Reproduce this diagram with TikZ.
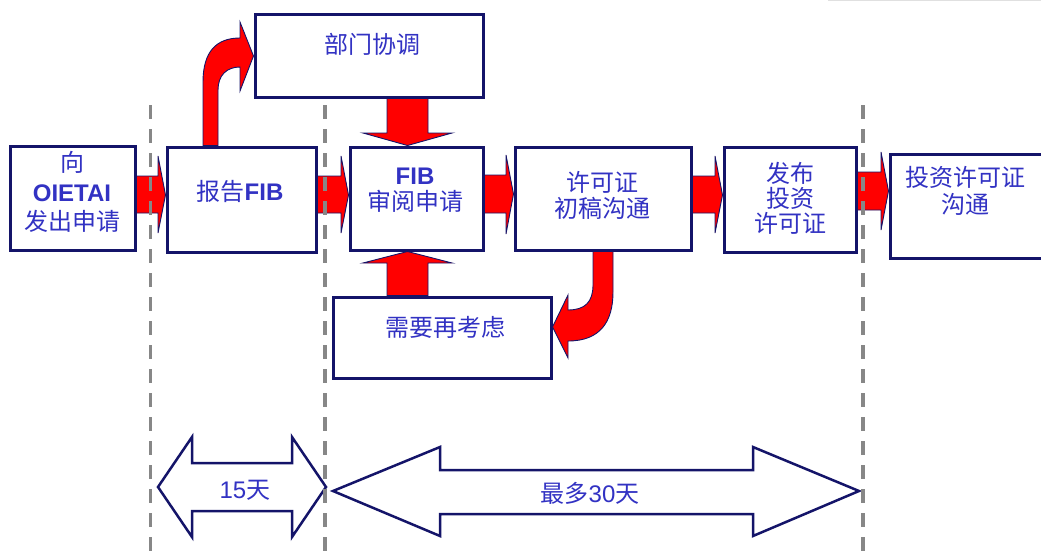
\documentclass[tikz,border=0pt]{standalone}
\usepackage{fontspec}
\setmainfont{Liberation Sans}
\newfontfamily\cjk{Noto Sans CJK SC}
\definecolor{navy}{RGB}{20,20,105}
\definecolor{txtblue}{RGB}{50,50,195}
\definecolor{dashgray}{RGB}{135,135,135}
\begin{document}
\begin{tikzpicture}[x=1pt,y=-1pt,
  box/.style={draw=navy,line width=3pt,fill=white,inner sep=0pt},
  lbl/.style={text=txtblue,font=\cjk\fontsize{24}{26}\selectfont,align=center,inner sep=0pt},
  redarr/.style={fill=red,draw=navy,line width=0.9pt,line join=miter},
  spanarr/.style={fill=white,draw=navy,line width=2.5pt,line join=miter},
  sep/.style={draw=dashgray,line width=3.5pt,dash pattern=on 14pt off 10pt}]
\useasboundingbox (0,0) rectangle (1041,551);
% faint top line
\draw[draw=black!12,line width=1.5pt] (828,0.5) -- (1041,0.5);
% boxes
\node[box,minimum width=125pt,minimum height=104pt] (A) at (72.5,198) {};
\node[box,minimum width=149pt,minimum height=105pt] (B) at (241.5,199.5) {};
\node[box,minimum width=228pt,minimum height=82pt] (C) at (369,56) {};
\node[box,minimum width=133pt,minimum height=103pt] (D) at (416.5,198.5) {};
\node[box,minimum width=176pt,minimum height=103pt] (E) at (603,198.5) {};
\node[box,minimum width=132pt,minimum height=105pt] (F) at (790,199.5) {};
\node[box,minimum width=170pt,minimum height=104pt] (G) at (975,206) {};
\node[box,minimum width=218pt,minimum height=81pt] (H) at (442,337.5) {};
% texts
\node[lbl,font=\cjk\fontsize{24}{29.5}\selectfont] (At) at (72,192) {向\\{\fontspec{Liberation Sans}\bfseries OIETAI}\\发出申请};
\node[lbl] (Bt) at (240,191) {报告{\fontspec{Liberation Sans}\bfseries FIB}};
\node[lbl] (Ct) at (372,44) {部门协调};
\node[lbl] (Dt) at (415,190) {{\fontspec{Liberation Sans}\bfseries FIB}\\审阅申请};
\node[lbl] (Et) at (602,195) {许可证\\初稿沟通};
\node[lbl,font=\cjk\fontsize{24}{25}\selectfont] (Ft) at (790,198) {发布\\投资\\许可证};
\node[lbl,font=\cjk\fontsize{24}{27}\selectfont] (Gt) at (965,191) {投资许可证\\沟通};
\node[lbl] (Ht) at (445,327) {需要再考虑};
% horizontal red arrows
\draw[redarr] (A.east |- 0,176) -- (158,176) -- (158,156) -- (B.west |- 0,195) -- (158,233) -- (158,213) -- (A.east |- 0,213) -- cycle;
\draw[redarr] (B.east |- 0,176) -- (341,176) -- (341,156) -- (D.west |- 0,195) -- (341,233) -- (341,213) -- (B.east |- 0,213) -- cycle;
\draw[redarr] (D.east |- 0,175) -- (506,175) -- (506,155) -- (E.west |- 0,194) -- (506,234) -- (506,213) -- (D.east |- 0,213) -- cycle;
\draw[redarr] (E.east |- 0,176) -- (715,176) -- (715,156) -- (F.west |- 0,195) -- (715,233) -- (715,213) -- (E.east |- 0,213) -- cycle;
\draw[redarr] (F.east |- 0,172) -- (881,172) -- (881,152) -- (G.west |- 0,191) -- (881,230) -- (881,210) -- (F.east |- 0,210) -- cycle;
% vertical red arrows
\draw[redarr] (C.south -| 387,0) -- (387,133) -- (363,133) -- (D.north -| 407.5,0) -- (452,133) -- (428,133) -- (C.south -| 428,0) -- cycle;
\draw[redarr] (H.north -| 387,0) -- (387,263) -- (363,263) -- (D.south -| 407.5,0) -- (452,263) -- (428,263) -- (H.north -| 428,0) -- cycle;
% curved red arrows
\draw[redarr] (B.north -| 203,0) -- (203,82) .. controls (203,52) and (216,38) .. (240,38) -- (240,22) -- (C.west |- 0,56) -- (240,91) -- (240,67) .. controls (227,67) and (218,75) .. (218,90) -- (B.north -| 218,0) -- cycle;
\draw[redarr] (E.south -| 593,0) -- (593,285) .. controls (593,302) and (585,310) .. (568,310) -- (568,295) -- (H.east |- 0,327) -- (568,358) -- (568,341) .. controls (600,341) and (613,322) .. (613,292) -- (E.south -| 613,0) -- cycle;
% bottom span arrows
\draw[spanarr] (158,487) -- (192,437) -- (192,463) -- (292,463) -- (292,437) -- (326,487) -- (292,537) -- (292,511) -- (192,511) -- (192,537) -- cycle;
\draw[spanarr] (333,491) -- (440,447) -- (440,470) -- (753,470) -- (753,447) -- (859,491) -- (753,536) -- (753,514) -- (440,514) -- (440,536) -- cycle;
\node[lbl,font=\fontsize{24}{26}\selectfont] (d15) at (245,490) {15{\cjk 天}};
\node[lbl,font=\fontsize{24}{26}\selectfont] (d30) at (590,493) {{\cjk 最多}30{\cjk 天}};
% dashed separators
\draw[sep] (150.5,105) -- (150.5,551);
\draw[sep] (325,105) -- (325,551);
\draw[sep] (863,105) -- (863,551);
\end{tikzpicture}
\end{document}
